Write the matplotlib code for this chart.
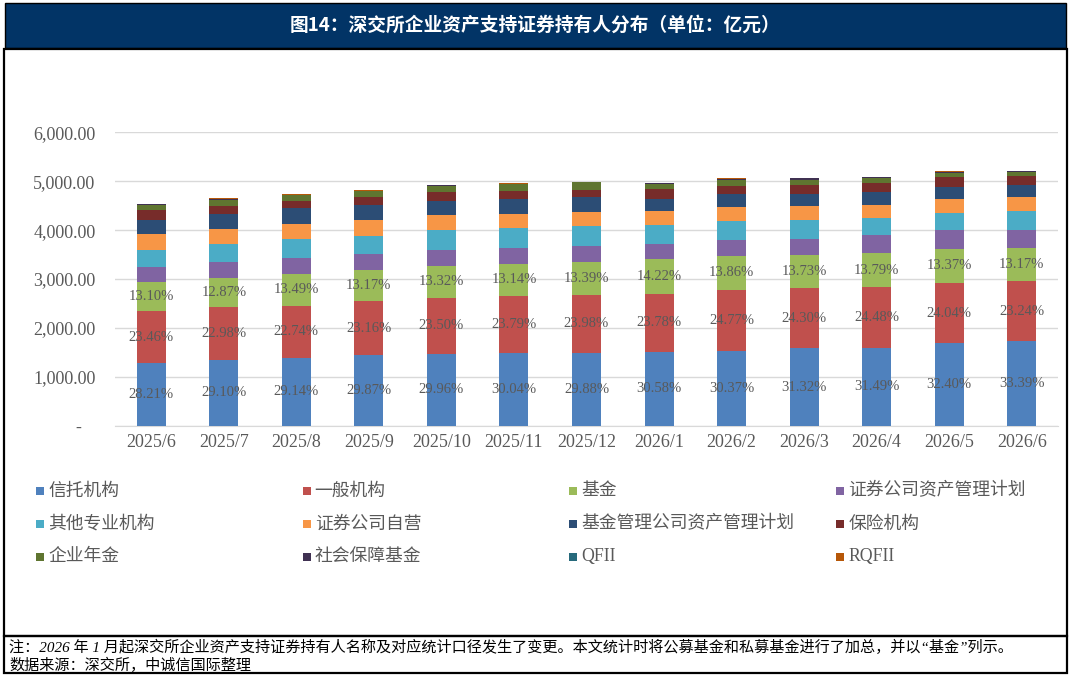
import numpy as np
import matplotlib
matplotlib.use("Agg")
import matplotlib.pyplot as plt
from matplotlib.patches import Rectangle
from matplotlib.ticker import FuncFormatter, MultipleLocator

plt.rcParams['font.family'] = ['Liberation Serif', 'Noto Sans CJK SC', 'DejaVu Sans']

W, H = 1071, 675

# ----- data (亿元) -----
months = ['2025/6', '2025/7', '2025/8', '2025/9', '2025/10', '2025/11', '2025/12',
          '2026/1', '2026/2', '2026/3', '2026/4', '2026/5', '2026/6']

trust = [1281, 1353, 1381, 1436, 1469, 1485, 1485, 1516, 1530, 1580, 1595, 1681, 1739]
general = [1065, 1069, 1077, 1113, 1152, 1176, 1192, 1179, 1248, 1226, 1240, 1247, 1211]
fund = [595, 598, 639, 633, 653, 650, 665, 705, 698, 693, 698, 694, 686]
broker_am = [300, 320, 341, 320, 327, 327, 327, 320, 327, 320, 368, 382, 375]
other_pro = [361, 382, 380, 375, 402, 402, 409, 375, 389, 389, 341, 341, 375]
broker_prop = [320, 300, 307, 320, 307, 286, 286, 293, 273, 293, 280, 286, 286]
fund_mgmt = [293, 314, 320, 307, 293, 307, 307, 252, 273, 239, 266, 259, 259]
insurance = [191, 164, 157, 170, 184, 170, 157, 191, 170, 191, 177, 198, 170]
annuity = [116, 123, 115, 123, 123, 136, 150, 102, 123, 102, 95, 89, 82]
social = [4, 6, 4, 4, 3, 4, 3, 25, 18, 25, 18, 18, 25]
qfii = [2, 2, 2, 2, 2, 2, 2, 3, 3, 3, 3, 3, 3]
rqfii = [8, 20, 12, 12, 8, 12, 8, 4, 4, 4, 4, 4, 4]

trust_pct = ['28.21%', '29.10%', '29.14%', '29.87%', '29.96%', '30.04%', '29.88%',
             '30.58%', '30.37%', '31.32%', '31.49%', '32.40%', '33.39%']
general_pct = ['23.46%', '22.98%', '22.74%', '23.16%', '23.50%', '23.79%', '23.98%',
               '23.78%', '24.77%', '24.30%', '24.48%', '24.04%', '23.24%']
fund_pct = ['13.10%', '12.87%', '13.49%', '13.17%', '13.32%', '13.14%', '13.39%',
            '14.22%', '13.86%', '13.73%', '13.79%', '13.37%', '13.17%']

series = [
    ('信托机构', trust, '#4F81BD'),
    ('一般机构', general, '#C0504D'),
    ('基金', fund, '#9BBB59'),
    ('证券公司资产管理计划', broker_am, '#8064A2'),
    ('其他专业机构', other_pro, '#4BACC6'),
    ('证券公司自营', broker_prop, '#F79646'),
    ('基金管理公司资产管理计划', fund_mgmt, '#2C4D75'),
    ('保险机构', insurance, '#772C2A'),
    ('企业年金', annuity, '#5F7530'),
    ('社会保障基金', social, '#403152'),
    ('QFII', qfii, '#276A7C'),
    ('RQFII', rqfii, '#B65708'),
]
labels_for = {0: trust_pct, 1: general_pct, 2: fund_pct}

GRAY = '#595959'


def fx(x):
    return x / W


def fy(y):
    return 1 - y / H


fig = plt.figure(figsize=(W / 100, H / 100), dpi=100)

# frame, header band and footer box
fig.patches.append(Rectangle((fx(5), fy(48)), fx(1061), 45 / H, transform=fig.transFigure,
                             facecolor='#023466', edgecolor='black', lw=1))
fig.patches.append(Rectangle((fx(3.5), fy(636)), fx(1063.5), 587 / H, transform=fig.transFigure,
                             facecolor='none', edgecolor='black', lw=1.6))
fig.patches.append(Rectangle((fx(3.5), fy(673)), fx(1063.5), 37 / H, transform=fig.transFigure,
                             facecolor='none', edgecolor='black', lw=1.6))
fig.text(0.5, fy(25), '图14：深交所企业资产支持证券持有人分布（单位：亿元）', color='white',
         fontsize=13.5, fontweight='bold', ha='center', va='center',
         family=['Noto Sans CJK SC', 'DejaVu Sans'])

ax = fig.add_axes([fx(115), fy(425.7), fx(943), 293.4 / H])
x = np.arange(len(months))
bottom = np.zeros(len(months))
for i, (name, vals, col) in enumerate(series):
    vals = np.array(vals, dtype=float)
    ax.bar(x, vals, 0.4, bottom=bottom, color=col, zorder=3)
    if i in labels_for:
        for xi, b, v, lab in zip(x, bottom, vals, labels_for[i]):
            ax.text(xi, b + v / 2, lab, ha='center', va='center', fontsize=10.5,
                    color=GRAY, zorder=4)
    bottom += vals

ax.set_xlim(-0.5, len(months) - 0.5)
ax.set_ylim(0, 6000)
ax.yaxis.set_major_locator(MultipleLocator(1000))
ax.yaxis.set_major_formatter(FuncFormatter(lambda v, _: '-   ' if v == 0 else f'{v:,.2f}'))
ax.set_xticks(x, months)
ax.grid(axis='y', color='#D9D9D9', lw=1, zorder=0)
for s in ['top', 'right', 'left']:
    ax.spines[s].set_visible(False)
ax.spines['bottom'].set_color('#D9D9D9')
ax.tick_params(axis='y', length=0, pad=14, labelsize=13, labelcolor=GRAY)
ax.tick_params(axis='x', length=0, pad=6, labelsize=13, labelcolor=GRAY)

# legend, 4 columns laid out row by row
for i, (name, vals, col) in enumerate(series):
    r, c = divmod(i, 4)
    mx = 36 + 266.7 * c
    my = 491 + 33 * r
    fig.patches.append(Rectangle((fx(mx), fy(my + 4)), 8 / W, 8 / H, transform=fig.transFigure,
                                 facecolor=col, edgecolor='none'))
    fig.text(fx(mx + 12), fy(my), name, fontsize=12.8, color=GRAY, ha='left', va='center')

fig.text(fx(9), fy(647), '注：2026 年 1 月起深交所企业资产支持证券持有人名称及对应统计口径发生了变更。'
         '本文统计时将公募基金和私募基金进行了加总，并以“基金”列示。',
         fontsize=10.9, color='black', ha='left', va='center', style='italic')
fig.text(fx(9), fy(665), '数据来源：深交所，中诚信国际整理', fontsize=10.9, color='black',
         ha='left', va='center', style='italic')

fig.savefig('out.png', dpi=100)
